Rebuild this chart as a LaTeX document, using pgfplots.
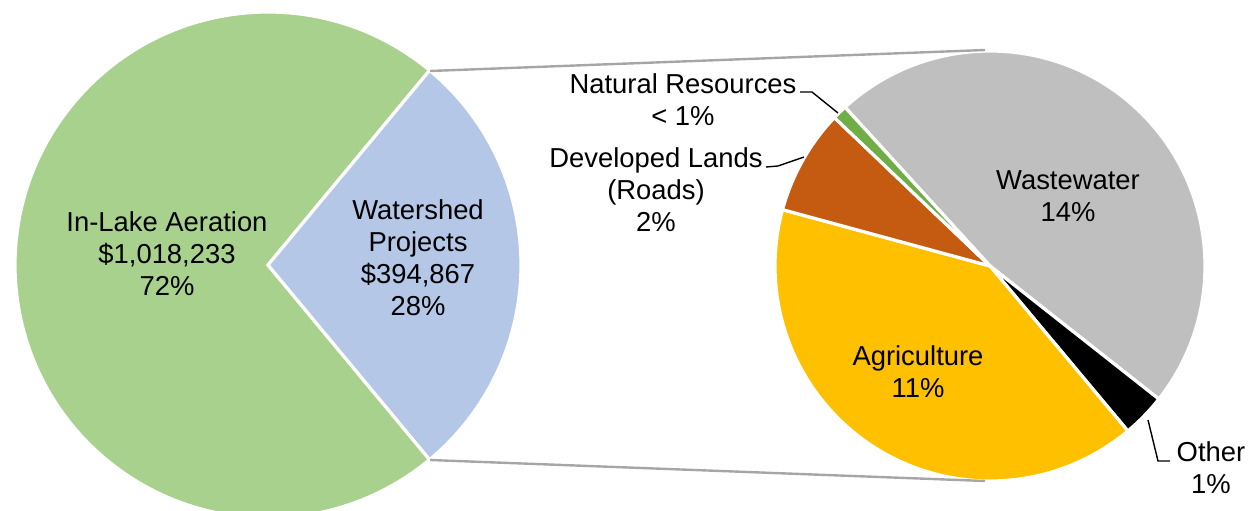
\documentclass[border=0pt]{standalone}
\usepackage{fontspec}
\setmainfont{Liberation Sans}
\usepackage{pgfplots}
\pgfplotsset{compat=1.18}
\definecolor{cAer}{HTML}{A9D18E}
\definecolor{cWat}{HTML}{B4C7E7}
\definecolor{cWw}{HTML}{BFBFBF}
\definecolor{cOth}{HTML}{000000}
\definecolor{cAgr}{HTML}{FFC000}
\definecolor{cDev}{HTML}{C55A11}
\definecolor{cNat}{HTML}{70AD47}
\definecolor{cCon}{HTML}{A6A6A6}
% main pie values (thousand dollars)
\def\vAer{1018.233}
\def\vWat{394.867}
% secondary pie shares (percent of watershed projects)
\def\vWw{47.4}
\def\vOth{3.3}
\def\vAgr{40.3}
\def\vDev{7.9}
\def\vNat{1.1}
\begin{document}
\begin{tikzpicture}[lbl/.style={font=\fontsize{13.7}{16}\selectfont, align=center, inner sep=0pt}]
\begin{axis}[width=625pt, height=255pt, scale only axis, xmin=0, xmax=1250, ymin=0, ymax=510, hide axis, clip=true]
\path (axis cs:0,0) rectangle (axis cs:1250,510);
% ---- main pie
\pgfmathsetmacro{\aW}{360*(\vWat/(\vAer+\vWat))}
\pgfmathsetmacro{\sW}{-\aW/2}
\pgfmathsetmacro{\eW}{\aW/2}
\pgfmathsetmacro{\eA}{360-\aW/2}
\fill[cAer, draw=white, line width=1.6pt] (axis cs:268,245) -- ++(\eW:126.5pt) arc[start angle=\eW, end angle=\eA, radius=126.5pt] -- cycle;
\fill[cWat, draw=white, line width=1.6pt] (axis cs:268,245) -- ++(\sW:126.5pt) arc[start angle=\sW, end angle=\eW, radius=126.5pt] -- cycle;
% ---- secondary pie (clockwise from 132.4 deg)
\pgfmathsetmacro{\tA}{132.4}
\pgfmathsetmacro{\tB}{\tA-3.6*\vWw}
\pgfmathsetmacro{\tC}{\tB-3.6*\vOth}
\pgfmathsetmacro{\tD}{\tC-3.6*\vAgr}
\pgfmathsetmacro{\tE}{\tD-3.6*\vDev}
\pgfmathsetmacro{\tF}{\tE-3.6*\vNat}
\fill[cWw, draw=white, line width=1.6pt] (axis cs:990,244) -- ++(\tA:107.5pt) arc[start angle=\tA, end angle=\tB, radius=107.5pt] -- cycle;
\fill[cOth, draw=white, line width=1.6pt] (axis cs:990,244) -- ++(\tB:107.5pt) arc[start angle=\tB, end angle=\tC, radius=107.5pt] -- cycle;
\fill[cAgr, draw=white, line width=1.6pt] (axis cs:990,244) -- ++(\tC:107.5pt) arc[start angle=\tC, end angle=\tD, radius=107.5pt] -- cycle;
\fill[cDev, draw=white, line width=1.6pt] (axis cs:990,244) -- ++(\tD:107.5pt) arc[start angle=\tD, end angle=\tE, radius=107.5pt] -- cycle;
\fill[cNat, draw=white, line width=1.6pt] (axis cs:990,244) -- ++(\tE:107.5pt) arc[start angle=\tE, end angle=\tF, radius=107.5pt] -- cycle;
% ---- connector lines
\addplot[cCon, line width=1.2pt] coordinates {(430,439) (985,460)};
\addplot[cCon, line width=1.2pt] coordinates {(430,50) (985,29)};
% ---- leader lines
\addplot[black, line width=0.7pt] coordinates {(800,418) (812,418) (838,397)};
\addplot[black, line width=0.7pt] coordinates {(766,343) (778,344) (804,353)};
\addplot[black, line width=0.7pt] coordinates {(1148,90) (1158,49) (1170,49)};
% ---- labels
\node[lbl] at (axis cs:167,256) {In-Lake Aeration\\\$1,018,233\\72\%};
\node[lbl] at (axis cs:418,252) {Watershed\\Projects\\\$394,867\\28\%};
\node[lbl] at (axis cs:683,410) {Natural Resources\\< 1\%};
\node[lbl] at (axis cs:656,320) {Developed Lands\\(Roads)\\2\%};
\node[lbl] at (axis cs:1068,314) {Wastewater\\14\%};
\node[lbl] at (axis cs:918,138) {Agriculture\\11\%};
\node[lbl] at (axis cs:1211,42) {Other\\1\%};
\end{axis}
\end{tikzpicture}
\end{document}
